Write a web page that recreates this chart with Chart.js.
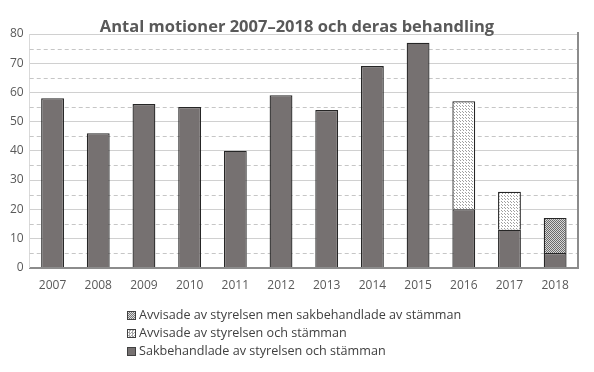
<!DOCTYPE html>
<html>
<head>
<meta charset="utf-8">
<script src="https://cdn.jsdelivr.net/npm/chart.js@4"></script>
<style>
  html, body { margin: 0; padding: 0; background: #fff; }
  #wrap { position: relative; width: 594px; height: 372px; }
  #title { position: absolute; left: 0; width: 594px; top: 15px; text-align: center; font: bold 16.5px "Open Sans", sans-serif; color: #595959; line-height: 22px; }
  #legend { position: absolute; left: 127px; top: 306px; font: 12.6px "Open Sans", sans-serif; color: #404040; }
  #legend div { height: 18px; line-height: 18px; white-space: nowrap; }
  #legend span.box { display: inline-block; width: 7px; height: 7px; border: 1px solid #404040; margin-right: 3px; vertical-align: -1px; }
</style>
</head>
<body>
<div id="wrap">
  <canvas id="c" width="594" height="372"></canvas>
  <div id="title"></div>
  <div id="legend"></div>
</div>
<script>
const title = "Antal motioner 2007–2018 och deras behandling";
const years = ["2007", "2008", "2009", "2010", "2011", "2012", "2013", "2014", "2015", "2016", "2017", "2018"];
const sakbehandlade = [58, 46, 56, 55, 40, 59, 54, 69, 77, 20, 13, 5];
const avvisade = [null, null, null, null, null, null, null, null, null, 37, 13, null];
const avvisadeMenSak = [null, null, null, null, null, null, null, null, null, null, null, 12];
const halfLines = [5, 15, 25, 35, 45, 55, 65, 75];

const dots = (bg, fg, step) => {
    const p = document.createElement("canvas");
    p.width = step; p.height = step;
    const g = p.getContext("2d");
    g.fillStyle = bg;
    g.fillRect(0, 0, step, step);
    g.fillStyle = fg;
    g.fillRect(0, 0, 1, 1);
    g.fillRect(Math.floor(step / 2), Math.floor(step / 2), 1, 1);
    return document.getElementById("c").getContext("2d").createPattern(p, "repeat");
};

const lightDots = dots("#ffffff", "#a0a0a0", 3);
const darkDots = dots("#d8d8d8", "#6a6a6a", 2);

const halfGrid = {
    id: "halfGrid",
    beforeDatasetsDraw(chart) {
        const { ctx, chartArea, scales } = chart;
        ctx.save();
        ctx.strokeStyle = "#c6c6c6";
        ctx.lineWidth = 1;
        ctx.setLineDash([4, 3]);
        halfLines.forEach((v) => {
            const y = Math.round(scales.y.getPixelForValue(v)) + 0.5;
            ctx.beginPath();
            ctx.moveTo(chartArea.left, y);
            ctx.lineTo(chartArea.right, y);
            ctx.stroke();
        });
        ctx.setLineDash([]);
        ctx.strokeStyle = "#8c8c8c";
        ctx.lineWidth = 2;
        ctx.beginPath();
        ctx.moveTo(chartArea.right, chartArea.top - 2);
        ctx.lineTo(chartArea.right, chartArea.bottom);
        ctx.stroke();
        ctx.restore();
    }
};

document.getElementById("title").textContent = title;

const chart = new Chart(document.getElementById("c"), {
    type: "bar",
    data: {
        labels: years,
        datasets: [
            {
                label: "Sakbehandlade av styrelsen och stämman",
                data: sakbehandlade,
                backgroundColor: "#767171",
                borderColor: "#262626",
                borderWidth: 1.3,
                legendColor: "#767171"
            },
            {
                label: "Avvisade av styrelsen och stämman",
                data: avvisade,
                backgroundColor: lightDots,
                borderColor: "#262626",
                borderWidth: 1.3,
                legendColor: "repeating-conic-gradient(#aaa 0 25%, #fff 0 50%) 0 0/3px 3px"
            },
            {
                label: "Avvisade av styrelsen men sakbehandlade av stämman",
                data: avvisadeMenSak,
                backgroundColor: darkDots,
                borderColor: "#262626",
                borderWidth: 1.3,
                legendColor: "repeating-conic-gradient(#777 0 25%, #ddd 0 50%) 0 0/2px 2px"
            }
        ]
    },
    options: {
        responsive: false,
        animation: false,
        layout: { padding: { left: 4, right: 16, top: 34, bottom: 76 } },
        datasets: { bar: { categoryPercentage: 1, barPercentage: 0.5 } },
        plugins: {
            legend: { display: false },
            tooltip: { enabled: false }
        },
        scales: {
            x: {
                stacked: true,
                grid: { display: false },
                border: { color: "#8c8c8c", width: 2 },
                ticks: { color: "#595959", font: { family: "Open Sans", size: 12 }, padding: 3 }
            },
            y: {
                stacked: true,
                min: 0,
                max: 80,
                ticks: { stepSize: 10, color: "#595959", font: { family: "Open Sans", size: 12 }, padding: 6 },
                grid: { color: "#d0d0d0", drawTicks: false },
                border: { color: "#d9d9d9", width: 1 }
            }
        }
    },
    plugins: [halfGrid]
});

const legend = document.getElementById("legend");
chart.data.datasets.slice().reverse().forEach((ds) => {
    const row = document.createElement("div");
    const box = document.createElement("span");
    box.className = "box";
    box.style.background = ds.legendColor;
    row.appendChild(box);
    row.appendChild(document.createTextNode(ds.label));
    legend.appendChild(row);
});
</script>
</body>
</html>
